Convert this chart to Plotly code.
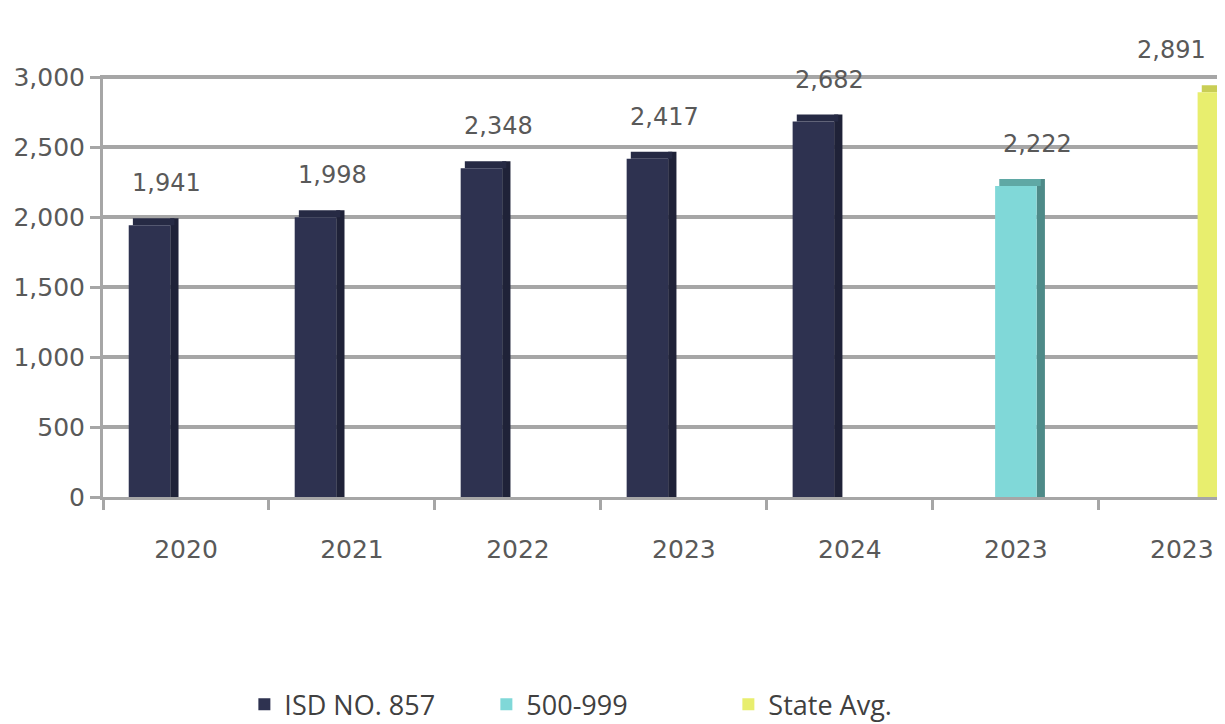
import plotly.graph_objects as go

# ---- data ----
categories = ["2020", "2021", "2022", "2023", "2024", "2023", "2023"]
isd_x = [0, 1, 2, 3, 4]
isd_values = [1941, 1998, 2348, 2417, 2682]
grp_x = [5]
grp_values = [2222]
state_x = [6]
state_values = [2891]
series_names = ["ISD NO. 857", "500-999", "State Avg."]
y_ticks = [0, 500, 1000, 1500, 2000, 2500, 3000]

# ---- style ----
FRONT_W = 0.25
SIDE_W = 0.05
DEPTH = 50          # data units for 3D depth illusion
LABEL_SHIFT = 42    # px above the bar top
# (x values, y values, bar offset, front, side, top colours, label dx, label anchor)
series = [
    (isd_x, isd_values, -0.22, "#2E3250", "#1F2238", "#262A44", 0.1, "center"),
    (grp_x, grp_values, 0.0, "#80D8D8", "#4E8A88", "#5FA8A5", 0.13, "center"),
    (state_x, state_values, 0.22, "#E8EE6E", "#B8BE45", "#C9CE55", -0.06, "right"),
]
TEXT_COLOR = "#595959"
GRID = "#A6A6A6"

fig = go.Figure()
annotations = []
for (xs, vals, off, front, side, top, ldx, xanc), name in zip(series, series_names):
    # side face
    fig.add_trace(go.Bar(
        x=xs, y=[v + DEPTH for v in vals], base=[0] * len(vals),
        offset=off + FRONT_W / 2, width=SIDE_W,
        marker=dict(color=side, line=dict(width=0)),
        showlegend=False, hoverinfo="skip"))
    # top face
    fig.add_trace(go.Bar(
        x=xs, y=[DEPTH] * len(vals), base=vals,
        offset=off - FRONT_W / 2 + SIDE_W / 2, width=FRONT_W,
        marker=dict(color=top, line=dict(width=0)),
        showlegend=False, hoverinfo="skip"))
    # front face
    fig.add_trace(go.Bar(
        x=xs, y=vals, offset=off - FRONT_W / 2, width=FRONT_W,
        marker=dict(color=front, line=dict(width=0)),
        name=name, showlegend=False))
    # legend entry (square swatch)
    fig.add_trace(go.Scatter(
        x=[None], y=[None], mode="markers", name=name,
        marker=dict(symbol="square", size=18, color=front)))
    # value labels
    for x, v in zip(xs, vals):
        annotations.append(dict(
            x=x + off + ldx, y=v, xref="x", yref="y", yshift=LABEL_SHIFT,
            text=f"{v:,}", showarrow=False, xanchor=xanc, yanchor="middle",
            font=dict(family="DejaVu Sans", size=24, color=TEXT_COLOR)))

# page body has an 8px default margin: size the figure so it fills the window
fig.update_layout(
    width=1217, height=716,
    margin=dict(l=95, r=0, t=67, b=227, autoexpand=False),
    paper_bgcolor="white", plot_bgcolor="white",
    barmode="overlay",
    annotations=annotations,
    font=dict(family="DejaVu Sans", color=TEXT_COLOR),
    legend=dict(
        orientation="h", x=0.126, xanchor="left", y=-0.492, yanchor="middle",
        font=dict(family="Open Sans", size=27, color="#404040"),
        entrywidth=197, itemsizing="constant", tracegroupgap=0),
    xaxis=dict(
        range=[-0.5, 6.26],
        tickmode="array", tickvals=list(range(len(categories))), ticktext=categories,
        ticks="", showgrid=False, zeroline=False,
        showline=True, linecolor=GRID, linewidth=3,
        tickfont=dict(family="DejaVu Sans", size=25, color=TEXT_COLOR),
        ticklabelstandoff=28,
        minor=dict(tick0=0.5, dtick=1, ticks="outside", ticklen=10,
                   tickwidth=3, tickcolor=GRID, showgrid=False),
    ),
    yaxis=dict(
        range=[0, 3015], tickvals=y_ticks,
        tickformat=",", ticks="outside", ticklen=10, tickwidth=3, tickcolor=GRID,
        showline=True, linecolor=GRID, linewidth=3,
        showgrid=True, gridcolor=GRID, gridwidth=4, zeroline=False,
        tickfont=dict(family="DejaVu Sans", size=25, color=TEXT_COLOR),
    ),
)

fig.write_html("out.html")
